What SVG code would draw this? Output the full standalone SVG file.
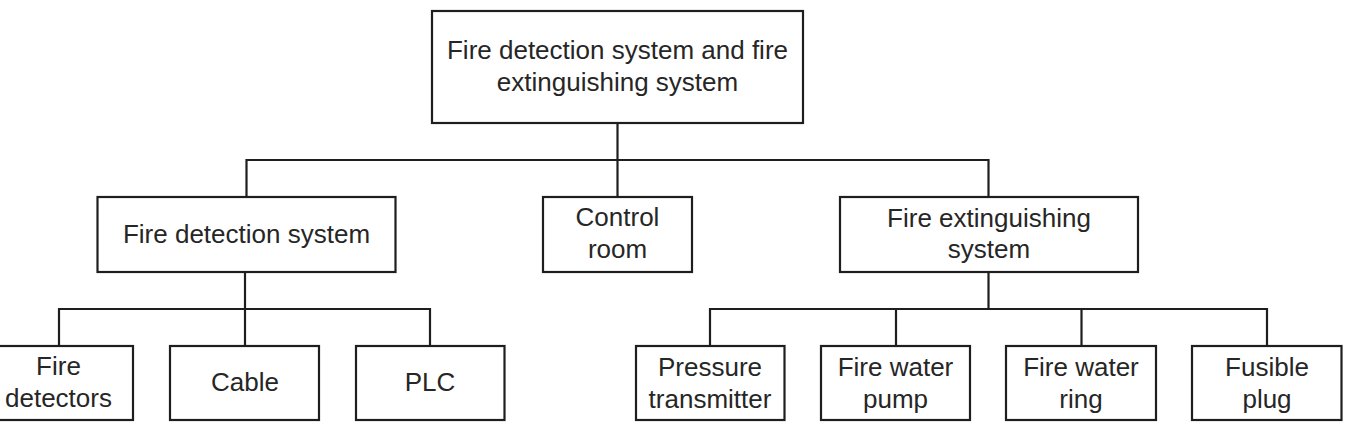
<svg xmlns="http://www.w3.org/2000/svg" width="1355" height="423" viewBox="0 0 1355 423">
<style>
.box{fill:#fff;stroke:#1e1e1e;stroke-width:2.2}
.lbl{font-family:"Liberation Sans",Arial,sans-serif;font-size:26px;fill:#262626;text-anchor:middle}
.con{fill:none;stroke:#1e1e1e;stroke-width:2.2}
</style>
<rect width="1355" height="423" fill="#fff"/>
<g id="connectors">
<path class="con" d="M617.5,123 V197"/>
<path class="con" d="M246.5,197 V160 H988.5 V197"/>
<path class="con" d="M245,272 V346"/>
<path class="con" d="M59,346 V309 H430 V346"/>
<path class="con" d="M988.5,272 V309"/>
<path class="con" d="M710,346 V309 H1267 V346"/>
<path class="con" d="M896,309 V346"/>
<path class="con" d="M1081.5,309 V346"/>
</g>
<g id="root">
<rect class="box" x="432" y="11" width="371" height="112"/>
<text class="lbl" x="617.5" y="59">Fire detection system and fire</text>
<text class="lbl" x="617.5" y="91">extinguishing system</text>
</g>
<g id="fire-detection-system">
<rect class="box" x="97.5" y="197" width="298" height="75"/>
<text class="lbl" x="246.5" y="243">Fire detection system</text>
</g>
<g id="control-room">
<rect class="box" x="543" y="197" width="149" height="75"/>
<text class="lbl" x="617.5" y="226">Control</text>
<text class="lbl" x="617.5" y="258">room</text>
</g>
<g id="fire-extinguishing-system">
<rect class="box" x="840" y="197" width="298" height="75"/>
<text class="lbl" x="989" y="227">Fire extinguishing</text>
<text class="lbl" x="989" y="258">system</text>
</g>
<g id="fire-detectors">
<rect class="box" x="-16" y="346" width="149" height="74"/>
<text class="lbl" x="58.5" y="375">Fire</text>
<text class="lbl" x="58.5" y="407">detectors</text>
</g>
<g id="cable">
<rect class="box" x="170" y="346" width="149" height="74"/>
<text class="lbl" x="245" y="391">Cable</text>
</g>
<g id="plc">
<rect class="box" x="356" y="346" width="148.5" height="74"/>
<text class="lbl" x="430" y="391">PLC</text>
</g>
<g id="pressure-transmitter">
<rect class="box" x="636" y="346" width="148.5" height="74"/>
<text class="lbl" x="710" y="376">Pressure</text>
<text class="lbl" x="710" y="408">transmitter</text>
</g>
<g id="fire-water-pump">
<rect class="box" x="821" y="346" width="149" height="74"/>
<text class="lbl" x="895.5" y="376">Fire water</text>
<text class="lbl" x="895.5" y="408">pump</text>
</g>
<g id="fire-water-ring">
<rect class="box" x="1006" y="346" width="150" height="74"/>
<text class="lbl" x="1081" y="376">Fire water</text>
<text class="lbl" x="1081" y="408">ring</text>
</g>
<g id="fusible-plug">
<rect class="box" x="1192" y="346" width="149.5" height="74"/>
<text class="lbl" x="1267" y="376">Fusible</text>
<text class="lbl" x="1267" y="408">plug</text>
</g>
</svg>
